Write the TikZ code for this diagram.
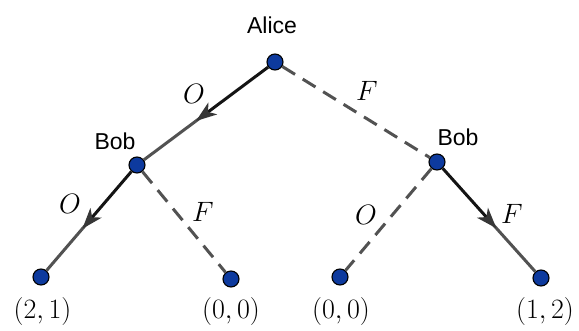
\RequirePackage{fix-cm}
\documentclass[tikz,border=0pt]{standalone}
\usepackage{fontspec}
\newfontfamily\labelfont{Liberation Sans}
\usetikzlibrary{decorations.markings,calc}
\definecolor{nodeblue}{RGB}{13,58,158}
\definecolor{edgegray}{RGB}{82,82,82}
\definecolor{tipgray}{RGB}{55,55,55}
\begin{document}
\begin{tikzpicture}[x=1pt,y=-1pt,
 dot/.style={circle,draw=black,line width=1.1pt,fill=nodeblue,minimum size=16pt,inner sep=0pt},
 player/.style={font=\labelfont\fontsize{23}{26}\selectfont,inner sep=0pt},
 act/.style={font=\fontsize{28}{32}\selectfont,inner sep=0pt},
 dashedge/.style={draw=edgegray,line width=3pt,dash pattern=on 15pt off 9pt},
 solidfirst/.style={draw=black!92,line width=3pt},
 solidsecond/.style={draw=edgegray,line width=3pt},
 midarrow/.style={decorate,decoration={markings,mark=at position #1 with {\fill[tipgray] (0pt,0pt) -- (-21pt,7.5pt) -- (-15pt,0pt) -- (-21pt,-7.5pt) -- cycle;}}}
 ]
\useasboundingbox (0,0) rectangle (579,330);

% game nodes
\node[dot] (alice) at (275,62) {};
\node[dot] (bobL) at (137,165) {};
\node[dot] (bobR) at (437,162) {};
\node[dot] (l1) at (41,277) {};
\node[dot] (l2) at (231,279) {};
\node[dot] (l3) at (340,277) {};
\node[dot] (l4) at (541,278) {};

% player labels
\node[player] (alicelab) at (272,25) {Alice};
\node[player] (bobLlab) at (115,141) {Bob};
\node[player] (bobRlab) at (458,137) {Bob};

% payoffs
\node[act] (p1) at (42.5,311) {$(2,1)$};
\node[act] (p2) at (231,311) {$(0,0)$};
\node[act] (p3) at (341,311) {$(0,0)$};
\node[act] (p4) at (545,311) {$(1,2)$};

% action labels
\node[act] (o1) at (194,94) {$O$};
\node[act] (f1) at (367,91) {$F$};
\node[act] (o2) at (70,204) {$O$};
\node[act] (f2) at (203,212) {$F$};
\node[act] (o3) at (366,215) {$O$};
\node[act] (f3) at (512,214) {$F$};

% solid edges (two-tone) with arrows
\coordinate (m1) at ($(alice)!0.5!(bobL)$);
\draw[solidsecond] (m1) -- (bobL);
\draw[solidfirst] (alice) -- (m1);
\path[midarrow=0.58] (alice) -- (bobL);

\coordinate (m2) at ($(bobL)!0.5!(l1)$);
\draw[solidsecond] (m2) -- (l1);
\draw[solidfirst] (bobL) -- (m2);
\path[midarrow=0.58] (bobL) -- (l1);

\coordinate (m3) at ($(bobR)!0.5!(l4)$);
\draw[solidsecond] (m3) -- (l4);
\draw[solidfirst] (bobR) -- (m3);
\path[midarrow=0.58] (bobR) -- (l4);

% dashed edges
\draw[dashedge] (alice) -- (bobR);
\draw[dashedge] (bobL) -- (l2);
\draw[dashedge] (bobR) -- (l3);
\end{tikzpicture}
\end{document}
